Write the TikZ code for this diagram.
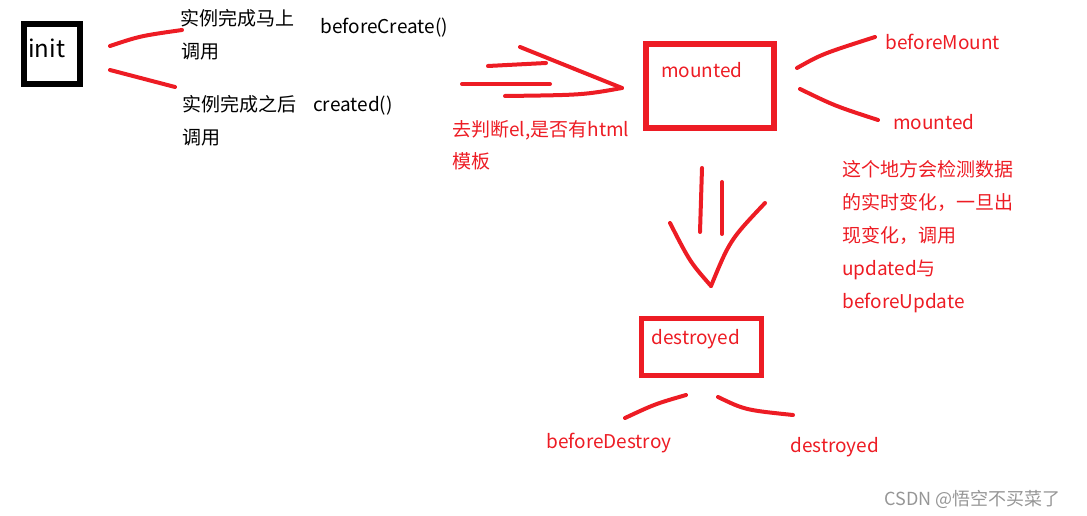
\documentclass[tikz,border=0pt]{standalone}
\usepackage{fontspec}
\setmainfont{Noto Sans CJK SC}
\usepackage{xcolor}
\definecolor{mkred}{RGB}{237,28,36}
\definecolor{mkgray}{RGB}{150,150,150}
\usepackage{tikz}
\tikzset{
  btxt/.style={inner sep=0pt,anchor=base west,font=\fontsize{14.25}{17}\selectfont},
  rtxt/.style={btxt,text=mkred},
  redline/.style={draw=mkred,line width=3pt,line cap=round,line join=round}
}

\begin{document}
\begin{tikzpicture}[x=0.75pt,y=-0.75pt]
  \useasboundingbox (0,0) rectangle (1087,516);
  % boxes
  \node[draw=black,line width=4.2pt,minimum width=42pt,minimum height=45pt] (initbox) at (52,54) {};
  \node[btxt,font=\fontsize{18}{20}\selectfont] (init) at (28,58) {init};
  \node[draw=mkred,line width=4pt,minimum width=96pt,minimum height=63pt] (mountbox) at (710,86) {};
  \node[rtxt] (mount) at (661,78) {mounted};
  \node[draw=mkred,line width=3.8pt,minimum width=90pt,minimum height=42.75pt] (destbox) at (701.5,347) {};
  \node[rtxt] (dest) at (651,344) {destroyed};

  % labels
  \node[btxt] (now) at (180,26) {实例完成马上};
  \node[btxt] (nowcall) at (181,59) {调用};
  \node[btxt] (bcreate) at (320,34) {beforeCreate()};
  \node[btxt] (after) at (182,112) {实例完成之后};
  \node[btxt] (aftercall) at (182,145) {调用};
  \node[btxt] (created) at (313,112) {created()};
  \node[rtxt] (judge) at (452,137) {去判断el,是否有html};
  \node[rtxt] (tmpl) at (452,169) {模板};
  \node[rtxt] (bmount) at (885,50) {beforeMount};
  \node[rtxt] (mounted) at (893,130) {mounted};
  \node[rtxt] (bdestroy) at (546,448) {beforeDestroy};
  \node[rtxt] (destroyed) at (790,452) {destroyed};
  \foreach \ln [count=\i from 0] in {这个地方会检测数据,的实时变化，一旦出,现变化，调用,updated与,beforeUpdate}
    \node[rtxt] (note\i) at (842,{177+32.8*\i}) {\ln};
  \node[btxt,text=mkgray,font=\fontsize{13.5}{16}\selectfont] (mark) at (884,505) {CSDN @悟空不买菜了};

  % strokes from init
  \coordinate (ia1) at (110,46); \coordinate (ia2) at (182,30);
  \coordinate (ib1) at (110,70); \coordinate (ib2) at (175,87);
  \draw[redline] (ia1) .. controls (140,36) .. (ia2);
  \draw[redline] (ib1) .. controls (143,79) .. (ib2);

  % arrow towards mounted
  \coordinate (h1a) at (488,66); \coordinate (h1b) at (546,63);
  \coordinate (h2a) at (462,84); \coordinate (h2b) at (550,84);
  \coordinate (h3a) at (505,96); \coordinate (htip) at (622,88);
  \coordinate (hd) at (520,47);
  \draw[redline] (h1a) -- (h1b);
  \draw[redline] (h2a) -- (h2b);
  \draw[redline] (h3a) .. controls (583,95) .. (htip);
  \draw[redline] (hd) -- (htip);

  % strokes from mounted
  \coordinate (ma1) at (797,68); \coordinate (ma2) at (875,37);
  \coordinate (mb1) at (800,89); \coordinate (mb2) at (878,120);
  \draw[redline] (ma1) .. controls (822,54) .. (ma2);
  \draw[redline] (mb1) .. controls (835,106) .. (mb2);

  % arrow down to destroyed
  \coordinate (v1a) at (702,168); \coordinate (v1b) at (700,232);
  \coordinate (v2a) at (722,182); \coordinate (v2b) at (722,234);
  \coordinate (vl) at (670,223); \coordinate (vr) at (765,203);
  \coordinate (vtip) at (711,286);
  \draw[redline] (v1a) -- (v1b);
  \draw[redline] (v2a) -- (v2b);
  \draw[redline] (vl) .. controls (690,262) .. (vtip);
  \draw[redline] (vr) .. controls (730,240) .. (vtip);

  % strokes from destroyed
  \coordinate (da1) at (686,395); \coordinate (da2) at (625,418);
  \coordinate (db1) at (718,397); \coordinate (db2) at (793,415);
  \draw[redline] (da1) .. controls (655,404) .. (da2);
  \draw[redline] (db1) .. controls (745,410) .. (db2);
\end{tikzpicture}
\end{document}
